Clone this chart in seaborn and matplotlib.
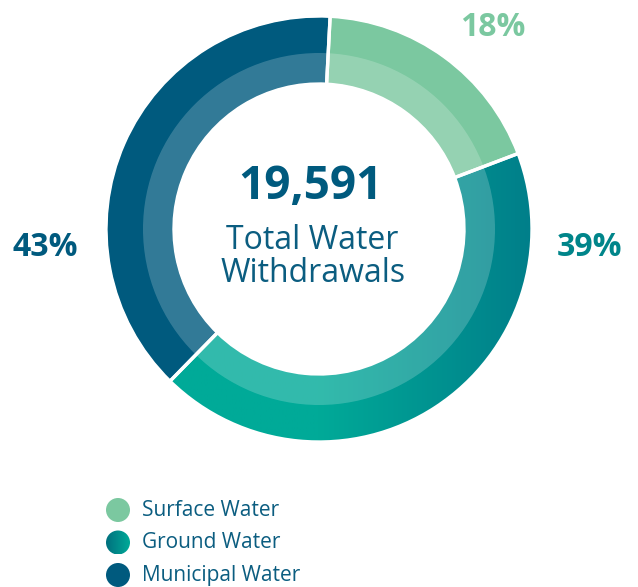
import numpy as np
import matplotlib
matplotlib.use("Agg")
import matplotlib.pyplot as plt
from matplotlib.colors import LinearSegmentedColormap
from matplotlib.patches import Circle
import seaborn as sns

# ---- data ----
categories = ["Surface Water", "Ground Water", "Municipal Water"]
arc_shares = [18.4, 43.1, 38.5]          # arc sizes as drawn in the reference
label_texts = ["18%", "39%", "43%"]      # printed percentage labels (Surface, Ground, Municipal)
total_value = "19,591"
total_caption = ["Total Water", "Withdrawals"]

# ---- style ----
sns.set_theme(style="white")
plt.rcParams['font.family'] = ['Open Sans', 'DejaVu Sans']

c_surface = "#7bc8a0"
c_ground_l = "#00aa98"
c_ground_r = "#007f8a"
c_ground_mid = "#00a095"
c_muni = "#005a7e"
c_text = "#0b5d80"
palette = sns.color_palette([c_surface, c_ground_mid, c_muni])

W, H = 638, 587
fig = plt.figure(figsize=(W / 100, H / 100), dpi=100)
ax = fig.add_axes([0, 0, 1, 1])

cx, cy = 319, H - 229
R_out, R_mid, R_in = 212, 176, 146

# outer ring (full band)
wedges, _ = ax.pie(arc_shares, radius=R_out, center=(cx, cy), startangle=87,
                   counterclock=False, colors=palette,
                   wedgeprops=dict(width=R_out - R_in, linewidth=0))

# gradient fill for ground water wedge
grad_cmap = LinearSegmentedColormap.from_list("g", [c_ground_l, c_ground_l, c_ground_r])
grad = np.linspace(0, 1, 256).reshape(1, -1)
im = ax.imshow(grad, cmap=grad_cmap, extent=[cx - R_out, cx + R_out, cy - R_out, cy + R_out],
               aspect='auto', interpolation='bilinear', zorder=2)
im.set_clip_path(wedges[1])

# lighter inner band overlay
ov, _ = ax.pie([1], radius=R_mid, center=(cx, cy), colors=["white"],
               wedgeprops=dict(width=R_mid - R_in, linewidth=0, alpha=0.2))
for w in ov:
    w.set_zorder(3)

# white separators
sep, _ = ax.pie(arc_shares, radius=R_out + 1, center=(cx, cy), startangle=87,
                counterclock=False, colors=["none"] * 3,
                wedgeprops=dict(width=R_out + 1 - R_in + 1, linewidth=2.4,
                                edgecolor="white", facecolor="none"))
for w in sep:
    w.set_zorder(4)

ax.set_xlim(0, W)
ax.set_ylim(0, H)
ax.set_aspect('equal')
ax.axis('off')

# center text
ax.text(310, H - 199, total_value, ha='center', va='baseline', fontsize=33,
        fontweight='bold', color=c_muni, zorder=5)
ax.text(312, H - 249, total_caption[0], ha='center', va='baseline', fontsize=23,
        color=c_text, zorder=5)
ax.text(313, H - 282, total_caption[1], ha='center', va='baseline', fontsize=23,
        color=c_text, zorder=5)

# percentage labels
ax.text(493, H - 36, label_texts[0], ha='center', va='baseline', fontsize=23,
        fontweight='bold', color=c_surface)
ax.text(589, H - 256, label_texts[1], ha='center', va='baseline', fontsize=23,
        fontweight='bold', color="#00858a")
ax.text(45, H - 256, label_texts[2], ha='center', va='baseline', fontsize=23,
        fontweight='bold', color=c_muni)

# legend
leg_x, leg_y0, leg_dy, leg_r = 118, H - 510, 32.5, 12
for i, name in enumerate(categories):
    y = leg_y0 - i * leg_dy
    if i == 1:
        circ = Circle((leg_x, y), leg_r, facecolor='none', edgecolor='none')
        ax.add_patch(circ)
        lg = LinearSegmentedColormap.from_list("lg", ["#00707e", "#00aa98"])
        im2 = ax.imshow(grad, cmap=lg, extent=[leg_x - leg_r, leg_x + leg_r, y - leg_r, y + leg_r],
                        aspect='auto', interpolation='bilinear', zorder=3)
        im2.set_clip_path(circ)
    else:
        ax.add_patch(Circle((leg_x, y), leg_r, facecolor=palette[i], edgecolor='none'))
    ax.text(142, y, name, ha='left', va='center', fontsize=15, color=c_text)

ax.set_xlim(0, W)
ax.set_ylim(0, H)

fig.savefig("out.png", dpi=100)
